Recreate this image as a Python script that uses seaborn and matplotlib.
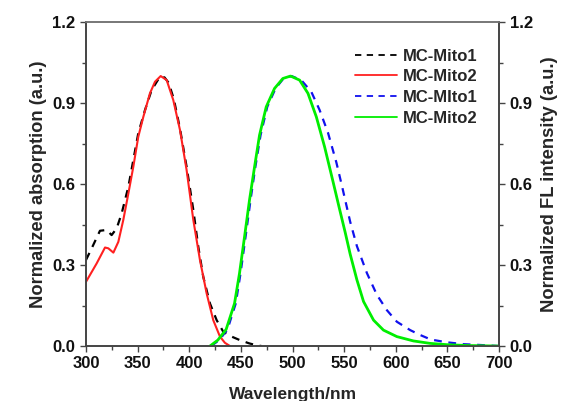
import matplotlib
matplotlib.use("Agg")
import matplotlib.pyplot as plt
import seaborn as sns
import pandas as pd
from matplotlib.ticker import MultipleLocator

# Absorption, MC-Mito1 (black dashed)
abs1_wl = [300, 305.5, 313.5, 320, 324.8, 329.7, 334.5, 341, 345.8, 350.6, 357.1, 363.5,
           371.6, 376, 380, 385, 391, 397.4, 403.9, 408.7, 413.5, 420, 426.5, 432.9, 441,
           449, 458, 465, 470]
abs1_val = [0.319, 0.362, 0.427, 0.43, 0.411, 0.436, 0.491, 0.59, 0.689, 0.788, 0.874, 0.948,
            0.998, 0.995, 0.975, 0.915, 0.805, 0.664, 0.504, 0.368, 0.257, 0.158, 0.096, 0.053,
            0.035, 0.022, 0.01, 0.003, 0.0]

# Absorption, MC-Mito2 (red solid)
abs2_wl = [300, 310.3, 318.4, 321.6, 326.5, 331.3, 336.1, 341, 345.8, 350.6, 355.5, 361.9,
           366.8, 372.3, 378.1, 384.5, 391, 397.4, 403.9, 410.3, 416.8, 423.2, 429.7, 434.5,
           439.4]
abs2_val = [0.238, 0.306, 0.365, 0.362, 0.346, 0.386, 0.467, 0.565, 0.664, 0.775, 0.849, 0.936,
            0.979, 1.0, 0.985, 0.911, 0.8, 0.652, 0.467, 0.319, 0.195, 0.096, 0.035, 0.012, 0.0]

# Fluorescence, MC-MIto1 (blue dashed)
fl1_wl = [421, 429, 437, 445, 449.6, 454.5, 459.3, 464, 469, 475.5, 483.5, 491, 499, 508.4,
          518.1, 526.2, 534.3, 542.4, 548, 555.8, 562.3, 572, 581.6, 591.3, 601,
          613.9, 623.5, 634, 649.4, 665.5, 681.6, 700]
fl1_val = [0.0, 0.022, 0.062, 0.158, 0.269, 0.405, 0.541, 0.664, 0.781, 0.886, 0.954, 0.99,
           1.0, 0.985, 0.942, 0.874, 0.79, 0.68, 0.59, 0.46, 0.37, 0.27, 0.19,
           0.133, 0.09, 0.059, 0.041, 0.024, 0.014, 0.007, 0.004, 0.0]

# Fluorescence, MC-Mito2 (green solid)
fl2_wl = [420, 427.6, 435.7, 443.8, 448.6, 453.5, 458.3, 463.2, 468, 474.5, 482.5, 490.6,
          498, 506.8, 514.9, 523, 531, 539.1, 545, 551, 555.8, 562.3, 568.7, 578.4, 588,
          601, 617, 633, 650, 670, 700]
fl2_val = [0.0, 0.022, 0.062, 0.158, 0.269, 0.405, 0.541, 0.664, 0.781, 0.886, 0.954, 0.991,
           1.0, 0.985, 0.936, 0.849, 0.738, 0.61, 0.515, 0.42, 0.34, 0.245, 0.165, 0.096,
           0.059, 0.035, 0.019, 0.01, 0.005, 0.002, 0.0]

labels = ["MC-Mito1", "MC-Mito2", "MC-MIto1", "MC-Mito2"]
x_ticks = [300, 350, 400, 450, 500, 550, 600, 650, 700]
y_ticks = [0.0, 0.3, 0.6, 0.9, 1.2]

sns.set_style("ticks")
plt.rcParams["font.family"] = ["Liberation Sans", "DejaVu Sans"]
plt.rcParams["font.weight"] = "bold"

fig = plt.figure(figsize=(5.64, 4.01), dpi=100)
ax = fig.add_axes([0.1525, 0.137, 0.7325, 0.808])
ax2 = ax.twinx()

df_a1 = pd.DataFrame({"wl": abs1_wl, "v": abs1_val})
df_a2 = pd.DataFrame({"wl": abs2_wl, "v": abs2_val})
df_f1 = pd.DataFrame({"wl": fl1_wl, "v": fl1_val})
df_f2 = pd.DataFrame({"wl": fl2_wl, "v": fl2_val})

sns.lineplot(data=df_a1, x="wl", y="v", ax=ax, color="black", lw=1.6,
             linestyle=(0, (3.5, 3)), label=labels[0], legend=False)
sns.lineplot(data=df_a2, x="wl", y="v", ax=ax, color="#ff2020", lw=1.5,
             label=labels[1], legend=False)
sns.lineplot(data=df_f1, x="wl", y="v", ax=ax2, color="#1010ee", lw=1.6,
             linestyle=(0, (3.5, 3)), label=labels[2], legend=False)
sns.lineplot(data=df_f2, x="wl", y="v", ax=ax2, color="#00ee00", lw=2.0,
             label=labels[3], legend=False)

for a in (ax, ax2):
    a.set_xlim(300, 700)
    a.set_ylim(0, 1.2)
    a.set_yticks(y_ticks)
    a.yaxis.set_minor_locator(MultipleLocator(0.15))
    a.tick_params(axis="both", which="major", length=4.5, width=1, direction="out",
                  labelsize=12, colors="#444444", labelcolor="#111111", pad=3)
    a.tick_params(axis="both", which="minor", length=3, width=1, direction="out",
                  colors="#444444")
    for sp in a.spines.values():
        sp.set_color("#444444")
        sp.set_linewidth(1.2)
    a.spines["top"].set_color("#777777")

ax.set_xticks(x_ticks)
ax.xaxis.set_minor_locator(MultipleLocator(25))
ax.set_yticklabels([f"{t:.1f}" for t in y_ticks], fontweight="bold")
ax2.set_yticklabels([f"{t:.1f}" for t in y_ticks], fontweight="bold")
ax.set_xticklabels([str(t) for t in x_ticks], fontweight="bold")
ax2.tick_params(axis="x", which="both", bottom=False, top=False)

ax.set_xlabel("Wavelength/nm", fontsize=12.5, fontweight="bold", labelpad=11)
ax.set_ylabel("Normalized absorption (a.u.)", fontsize=13.2, fontweight="bold", labelpad=4)
ax2.set_ylabel("Normalized FL intensity (a.u.)", fontsize=13.2, fontweight="bold", labelpad=6)

h1, l1 = ax.get_legend_handles_labels()
h2, l2 = ax2.get_legend_handles_labels()
leg = ax2.legend(h1 + h2, l1 + l2, loc="upper left", bbox_to_anchor=(0.651, 0.918),
                 frameon=False, handlelength=2.5, handletextpad=0.36,
                 labelspacing=0.34, borderaxespad=0, borderpad=0,
                 prop={"weight": "bold", "size": 12})
for line in leg.get_lines():
    line.set_linewidth(1.3)

fig.savefig("out.png", dpi=100)
